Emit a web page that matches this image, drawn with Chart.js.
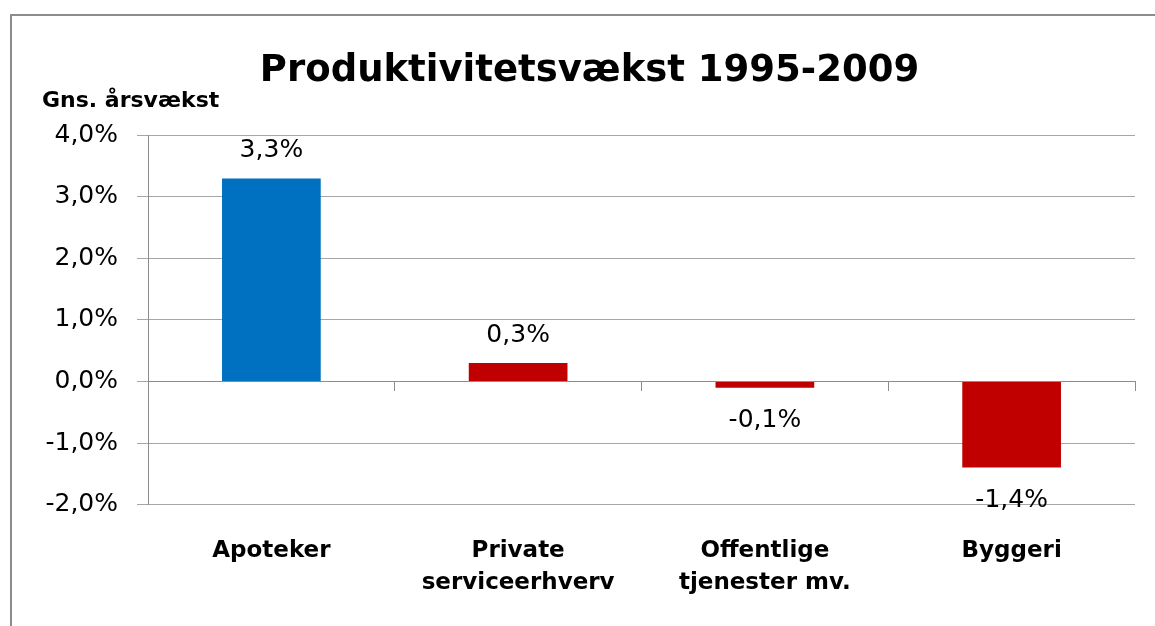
<!DOCTYPE html>
<html>
<head>
<meta charset="utf-8">
<script src="https://cdn.jsdelivr.net/npm/chart.js@4"></script>
<style>
  html, body { margin: 0; padding: 0; background: #fff; overflow: hidden; }
  #wrap { width: 1155px; height: 626px; }
</style>
</head>
<body>
<div id="wrap"><canvas id="grafico"></canvas></div>
<script>
const kategorier = [["Apoteker"], ["Private", "serviceerhverv"], ["Offentlige", "tjenester mv."], ["Byggeri"]];
const vaekst = [3.3, 0.3, -0.1, -1.4];
const farver = ["#0070C0", "#C00000", "#C00000", "#C00000"];
const yTicks = [-2, -1, 0, 1, 2, 3, 4];

const fmt = (v, d) => v.toFixed(d).replace(".", ",") + "%";
const fontFam = "'DejaVu Sans', sans-serif";

// ramme om hele diagrammet + akse-titel + værdier
const ekstra = {
  id: "ekstra",
  beforeDraw(chart) {
    const ctx = chart.ctx;
    ctx.save();
    ctx.strokeStyle = "#8c8c8c";
    ctx.lineWidth = 2;
    ctx.strokeRect(11, 15, chart.width + 20, chart.height + 20);
    ctx.restore();
  },
  afterDatasetsDraw(chart) {
    const ctx = chart.ctx;
    const area = chart.chartArea;
    ctx.save();
    ctx.fillStyle = "#000";
    ctx.font = "bold 22px " + fontFam;
    ctx.textAlign = "left";
    ctx.textBaseline = "middle";
    ctx.fillText("Gns. årsvækst", 42, area.top - 34);

    ctx.font = "25px " + fontFam;
    ctx.textAlign = "center";
    const meta = chart.getDatasetMeta(0);
    meta.data.forEach((bar, i) => {
      const v = vaekst[i];
      const y = v >= 0 ? bar.y - 28 : bar.y + 33;
      ctx.fillText(fmt(v, 1), bar.x, y);
    });
    ctx.restore();
  }
};

new Chart(document.getElementById("grafico"), {
  type: "bar",
  data: {
    labels: kategorier,
    datasets: [
      {
        label: "Gns. årsvækst",
        data: vaekst,
        backgroundColor: farver,
        borderWidth: 0,
        barPercentage: 0.4,
        categoryPercentage: 1,
        xAxisID: "x",
      },
    ],
  },
  options: {
    responsive: true,
    maintainAspectRatio: false,
    animation: false,
    layout: { padding: { top: 15, left: 44, right: 20, bottom: -4 } },
    plugins: {
      legend: { display: false },
      tooltip: { enabled: false },
      title: {
        display: true,
        text: "Produktivitetsvækst 1995-2009",
        color: "#000",
        font: { family: fontFam, size: 37, weight: "bold" },
        padding: { top: 34, bottom: 42 },
      },
    },
    scales: {
      x: {
        position: "bottom",
        grid: { display: false, drawTicks: false },
        border: { display: false },
        ticks: {
          color: "#000",
          padding: 31,
          maxRotation: 0,
          autoSkip: false,
          font: { family: fontFam, size: 23, weight: "bold", lineHeight: 1.38 },
        },
      },
      x0: {
        type: "category",
        position: { y: 0 },
        offset: true,
        grid: { drawOnChartArea: false, tickLength: 9, color: "#8c8c8c", offset: true },
        border: { color: "#8c8c8c" },
        ticks: { display: false },
      },
      y: {
        min: -2,
        max: 4,
        afterBuildTicks: (axis) => { axis.ticks = yTicks.map((v) => ({ value: v })); },
        afterFit: (axis) => { axis.width = 104; },
        grid: { color: "#a6a6a6", tickLength: 11 },
        border: { color: "#8c8c8c" },
        ticks: {
          color: "#000",
          padding: 19,
          font: { family: fontFam, size: 25 },
          callback: (v) => fmt(v, 1),
        },
      },
    },
  },
  plugins: [ekstra],
});
</script>
</body>
</html>
